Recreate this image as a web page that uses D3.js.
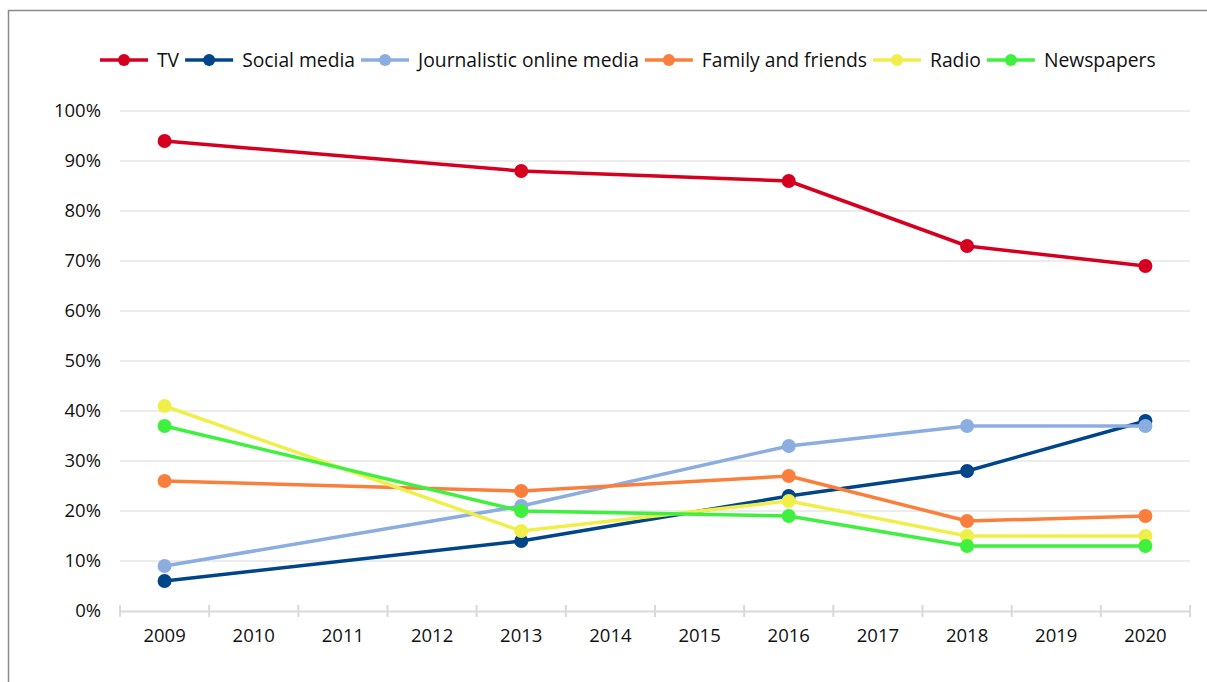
<!DOCTYPE html>
<html><head><meta charset="utf-8">
<script src="https://cdn.jsdelivr.net/npm/d3@7"></script>
<style>html,body{margin:0;padding:0;background:#fff;}svg{display:block;}</style>
</head><body>
<svg id="chart" width="1207" height="682"></svg>
<script>
const years = ["2009","2010","2011","2012","2013","2014","2015","2016","2017","2018","2019","2020"];
const dataYears = ["2009","2013","2016","2018","2020"];
const seriesNames = ["TV","Social media","Journalistic online media","Family and friends","Radio","Newspapers"];
const seriesColors = ["#d5001f","#00448a","#8bade0","#fb7f3c","#f0ef4a","#3ff03f"];
const tvValues = [94,88,86,73,69];
const socialValues = [6,14,23,28,38];
const journalisticValues = [9,21,33,37,37];
const familyValues = [26,24,27,18,19];
const radioValues = [41,16,22,15,15];
const newspaperValues = [37,20,19,13,13];
const yTicks = [0,10,20,30,40,50,60,70,80,90,100];

(function(){
const allValues = [tvValues,socialValues,journalisticValues,familyValues,radioValues,newspaperValues];
const series = seriesNames.map((n,i)=>({name:n,color:seriesColors[i],values:dataYears.map((y,j)=>({year:y,v:allValues[i][j]}))}));

const svg = d3.select("#chart");
const font = "'Open Sans', sans-serif";
const mLeft = 120, mRight = 1190, mTop = 111, mBottom = 611;

svg.append("path").attr("d","M8.5,682 L8.5,10.5 L1207,10.5").attr("fill","none").attr("stroke","#8a8a8a").attr("stroke-width",1.5);

const x = d3.scaleBand().domain(years).range([mLeft,mRight]);
const y = d3.scaleLinear().domain([0,100]).range([mBottom,mTop]);

svg.append("g").selectAll("line").data(yTicks.filter(t=>t>0)).join("line")
  .attr("x1",mLeft).attr("x2",mRight).attr("y1",d=>y(d)).attr("y2",d=>y(d))
  .attr("stroke","#d9d9d9").attr("stroke-width",1.2);

const yAxis = svg.append("g").attr("transform",`translate(${mLeft},0)`)
  .call(d3.axisLeft(y).tickValues(yTicks).tickFormat(d=>d+"%").tickSize(0).tickPadding(19));
yAxis.select(".domain").remove();
yAxis.selectAll("text").attr("font-family",font).attr("font-size",18.5).attr("fill","#111");

const xAxis = svg.append("g").attr("transform",`translate(0,${mBottom})`)
  .call(d3.axisBottom(x).tickSize(0).tickPadding(18));
xAxis.select(".domain").attr("stroke","#d9d9d9").attr("stroke-width",2);
xAxis.selectAll("text").attr("font-family",font).attr("font-size",18.5).attr("fill","#111");
const boundaries = years.map(d=>x(d)).concat([mRight]);
xAxis.append("g").selectAll("line").data(boundaries).join("line")
  .attr("x1",d=>d).attr("x2",d=>d).attr("y1",-6).attr("y2",6)
  .attr("stroke","#d9d9d9").attr("stroke-width",2);

const cx = d=>x(d.year)+x.bandwidth()/2;
const line = d3.line().x(cx).y(d=>y(d.v));

const g = svg.append("g");
series.forEach(s=>{
  const sg = g.append("g");
  sg.append("path").datum(s.values).attr("d",line).attr("fill","none")
    .attr("stroke",s.color).attr("stroke-width",3.5).attr("stroke-linejoin","round");
  sg.selectAll("circle").data(s.values).join("circle")
    .attr("cx",cx).attr("cy",d=>y(d.v)).attr("r",7).attr("fill",s.color);
});

const leg = svg.append("g").attr("transform","translate(0,60)");
let lx = 100;
series.forEach(s=>{
  const it = leg.append("g");
  it.append("line").attr("x1",lx).attr("x2",lx+48).attr("y1",0).attr("y2",0).attr("stroke",s.color).attr("stroke-width",3.5);
  it.append("circle").attr("cx",lx+24).attr("cy",0).attr("r",6).attr("fill",s.color);
  const t = it.append("text").attr("x",lx+57).attr("y",0).attr("dy","0.35em")
    .attr("font-family",font).attr("font-size",19.3).attr("fill","#111").text(s.name);
  lx = lx + 57 + t.node().getComputedTextLength() + 6;
});
})();
</script>
</body></html>
